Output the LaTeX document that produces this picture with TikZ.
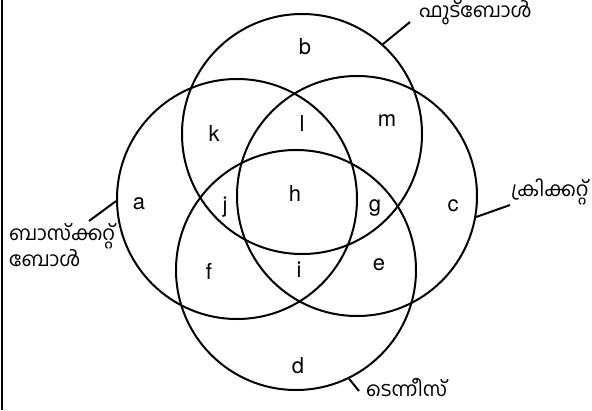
\documentclass[tikz,border=0pt]{standalone}
\usepackage{fontspec}
\setmainfont{TeX Gyre Heros}
\newfontfamily\mlfont[Script=Malayalam]{Hind Kochi}
\usetikzlibrary{calc}

\begin{document}
\begin{tikzpicture}[x=1pt, y=-1pt,
  set/.style={draw, circle, line width=2pt, minimum size=240pt, inner sep=0pt},
  region/.style={font=\fontsize{22}{24}\selectfont},
  sport/.style={font=\mlfont\fontsize{20}{22}\selectfont, align=left, inner sep=0pt},
  tick/.style={line width=2pt}]
  % 0. Canvas (one unit = one pixel of the scan, y downwards)
  \useasboundingbox (0,0) rectangle (592,410);
  \draw[line width=2pt] (2,0) -- (2,410);

  % 1. The four sets
  \node[set] (football)   at (302,134) {};
  \node[set] (basketball) at (237,199) {};
  \node[set] (cricket)    at (357,196) {};
  \node[set] (tennis)     at (296,270) {};

  % 2. Region letters
  \node[region] (b) at (305,47)  {b};
  \node[region] (k) at (214,133) {k};
  \node[region] (l) at (302,123) {l};
  \node[region] (m) at (387,121) {m};
  \node[region] (a) at (139,204) {a};
  \node[region] (j) at (225,207) {j};
  \node[region] (h) at (295,193) {h};
  \node[region] (g) at (375,208) {g};
  \node[region] (c) at (453,206) {c};
  \node[region] (f) at (209,271) {f};
  \node[region] (i) at (299,270) {i};
  \node[region] (e) at (379,265) {e};
  \node[region] (d) at (298,366) {d};

  % 3. Set names and their ticks
  \node[sport, anchor=west] (footballName) at (419,13) {ഫുട്ബോൾ};
  \coordinate (footballEnd) at (410,22);
  \draw[tick] (football.48) -- (footballEnd);

  \node[sport, anchor=west] (basketballName) at (9,245) {ബാസ്ക്കറ്റ്\\ബോൾ};
  \coordinate (basketballEnd) at (89,221);
  \draw[tick] (basketball.181) -- (basketballEnd);

  \node[sport, anchor=west] (cricketName) at (511,192) {ക്രിക്കറ്റ്};
  \coordinate (cricketEnd) at (510,205);
  \draw[tick] (cricket.350) -- (cricketEnd);

  \node[sport, anchor=west] (tennisName) at (366,388) {ടെന്നീസ്};
  \coordinate (tennisEnd) at (359,391);
  \draw[tick] (tennis.296) -- (tennisEnd);
\end{tikzpicture}
\end{document}
